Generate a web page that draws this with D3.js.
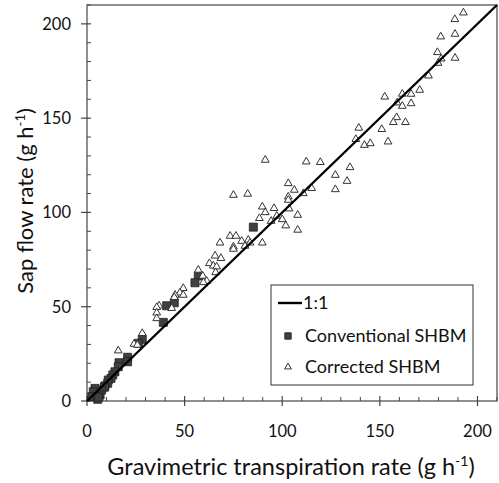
<!DOCTYPE html>
<html>
<head>
<meta charset="utf-8">
<script src="https://cdn.jsdelivr.net/npm/d3@7"></script>
<style>
  body { margin: 0; background: #fff; }
  text { font-family: Lato, "Open Sans", sans-serif; fill: #111; }
</style>
</head>
<body>
<svg id="chart" width="499" height="483"></svg>
<script>
// Conventional SHBM (x = gravimetric, y = sap flow), g h-1
const convX = [85.2, 57.0, 55.3, 44.7, 40.8, 39.1, 28.3, 26.3, 20.8, 20.8, 16.4, 16.0, 14.3, 13.2, 12.3, 10.9, 10.6, 9.2, 8.9, 7.5, 6.7, 4.1, 3.2, 2.4, 5.5, 6.0];
const convY = [92.2, 66.3, 62.7, 52.1, 50.5, 41.7, 32.7, 30.6, 23.2, 20.8, 20.3, 18.2, 15.5, 13.8, 12.0, 11.1, 9.4, 8.0, 7.3, 5.8, 3.2, 6.7, 4.9, 2.3, 0.9, 2.0];

// Corrected SHBM
const corrX = [192.8, 188.4, 181.2, 188.5, 179.5, 181.4, 179.8, 188.5, 174.9, 170.4, 166.0, 161.5, 152.5, 158.8, 166.0, 161.5,
  158.6, 156.9, 163.1, 151.0, 139.2, 137.7, 142.1, 145.1, 154.2, 134.7, 127.2, 133.2, 127.2, 112.3, 119.5, 91.3,
  103.1, 106.2, 115.1, 110.8, 103.1, 103.1, 103.5, 107.9, 107.9, 101.8, 89.8, 95.8, 91.3, 88.3, 94.3, 97.2, 100.0,
  89.8, 75.0, 82.3, 73.3, 76.3, 79.2, 82.6, 75.0, 80.9, 68.1, 83.5, 75.0, 65.6, 68.6, 62.7, 64.7, 66.4, 65.9, 57.0,
  59.3, 61.3, 59.6, 49.3, 47.6, 49.3, 45.1, 44.7, 43.4, 36.9, 35.7, 35.7, 35.7, 28.3, 24.1, 25.8, 16.0];
const corrY = [205.9, 202.4, 193.2, 194.6, 184.9, 181.5, 179.2, 181.9, 172.5, 164.9, 162.8, 162.8, 161.3, 158.2, 157.8, 156.4,
  150.4, 147.8, 147.8, 144.1, 144.8, 138.8, 135.7, 136.6, 137.5, 123.9, 119.8, 116.6, 112.2, 126.9, 126.6, 127.8,
  115.4, 111.9, 112.8, 110.1, 108.3, 106.6, 102.0, 98.6, 90.7, 93.0, 103.0, 102.2, 100.0, 96.9, 95.4, 98.1, 96.3,
  83.9, 109.2, 109.8, 87.5, 87.5, 84.8, 85.4, 81.8, 82.2, 83.9, 83.9, 80.6, 77.0, 75.7, 73.0, 71.7, 71.2, 68.2, 69.5,
  66.3, 63.6, 62.9, 59.8, 57.4, 56.2, 56.2, 55.0, 49.2, 50.5, 49.7, 46.8, 43.8, 35.9, 30.2, 29.7, 26.7];

const majorTicks = [0, 50, 100, 150, 200];
const minorTicks = d3.range(0, 211, 10).filter(v => v % 50 !== 0);
const oneToOne = [0, 210];
const legendLabels = ["1:1", "Conventional SHBM", "Corrected SHBM"];

const svg = d3.select("#chart");
const margin = { top: 5, right: 2, bottom: 82, left: 87 };
const w = 499 - margin.left - margin.right;
const h = 483 - margin.top - margin.bottom;
const g = svg.append("g").attr("transform", "translate(" + margin.left + "," + margin.top + ")");

const x = d3.scaleLinear().domain([0, 210]).range([0, w]);
const y = d3.scaleLinear().domain([0, 210]).range([h, 0]);

// frame
g.append("rect").attr("width", w).attr("height", h)
  .attr("fill", "none").attr("stroke", "#555").attr("stroke-width", 1.3);

// x axis ticks
const xAx = g.append("g").attr("transform", "translate(0," + h + ")");
xAx.selectAll("line.maj").data(majorTicks).join("line")
  .attr("x1", d => x(d)).attr("x2", d => x(d)).attr("y1", -5).attr("y2", 5)
  .attr("stroke", "#444").attr("stroke-width", 1.2);
xAx.selectAll("line.min").data(minorTicks).join("line")
  .attr("x1", d => x(d)).attr("x2", d => x(d)).attr("y1", -4).attr("y2", 0)
  .attr("stroke", "#444").attr("stroke-width", 1);
xAx.selectAll("text").data(majorTicks).join("text")
  .attr("x", d => x(d)).attr("y", 36)
  .attr("text-anchor", "middle").style("font-size", "16.5px").text(d => d);

// y axis ticks
const yAx = g.append("g");
yAx.selectAll("line.maj").data(majorTicks).join("line")
  .attr("x1", -6).attr("x2", 4).attr("y1", d => y(d)).attr("y2", d => y(d))
  .attr("stroke", "#444").attr("stroke-width", 1.2);
yAx.selectAll("line.min").data(minorTicks).join("line")
  .attr("x1", 0).attr("x2", 4).attr("y1", d => y(d)).attr("y2", d => y(d))
  .attr("stroke", "#444").attr("stroke-width", 1);
yAx.selectAll("text").data(majorTicks).join("text")
  .attr("x", -16).attr("y", d => y(d)).attr("dy", "0.36em")
  .attr("text-anchor", "end").style("font-size", "16.5px").text(d => d);

// axis titles
const xt = svg.append("text").attr("x", 291).attr("y", 475)
  .attr("text-anchor", "middle").style("font-size", "23.5px");
xt.append("tspan").text("Gravimetric transpiration rate (g h");
xt.append("tspan").attr("dy", -9).style("font-size", "14px").text("-1");
xt.append("tspan").attr("dy", 9).text(")");

const yt = svg.append("text").attr("transform", "translate(33,201) rotate(-90)")
  .attr("text-anchor", "middle").style("font-size", "22px");
yt.append("tspan").text("Sap flow rate (g h");
yt.append("tspan").attr("dy", -8).style("font-size", "13px").text("-1");
yt.append("tspan").attr("dy", 8).text(")");

const plot = g.append("g");
const sq = d3.symbol().type(d3.symbolSquare).size(64);
const tri = d3.symbol().type(d3.symbolTriangle).size(26);

plot.selectAll("path.conv").data(d3.range(convX.length)).join("path")
  .attr("class", "conv")
  .attr("transform", i => "translate(" + x(convX[i]) + "," + y(convY[i]) + ")")
  .attr("d", sq).attr("fill", "#404040").attr("stroke", "#222").attr("stroke-width", 0.8);

plot.selectAll("path.corr").data(d3.range(corrX.length)).join("path")
  .attr("class", "corr")
  .attr("transform", i => "translate(" + x(corrX[i]) + "," + y(corrY[i]) + ")")
  .attr("d", tri).attr("fill", "#fff").attr("stroke", "#333").attr("stroke-width", 1);

// 1:1 line
plot.append("line")
  .attr("x1", x(oneToOne[0])).attr("y1", y(oneToOne[0]))
  .attr("x2", x(oneToOne[1])).attr("y2", y(oneToOne[1]))
  .attr("stroke", "#000").attr("stroke-width", 2.4);

// legend
const leg = svg.append("g").attr("transform", "translate(271,285)");
leg.append("rect").attr("width", 202).attr("height", 100)
  .attr("fill", "#fff").attr("stroke", "#333").attr("stroke-width", 1);
leg.append("line").attr("x1", 7).attr("x2", 31).attr("y1", 18).attr("y2", 18)
  .attr("stroke", "#000").attr("stroke-width", 2.4);
leg.append("path").attr("transform", "translate(17,51)").attr("d", d3.symbol().type(d3.symbolSquare).size(42))
  .attr("fill", "#404040").attr("stroke", "#222").attr("stroke-width", 0.8);
leg.append("path").attr("transform", "translate(17,82)").attr("d", d3.symbol().type(d3.symbolTriangle).size(20))
  .attr("fill", "#fff").attr("stroke", "#333").attr("stroke-width", 1);
leg.selectAll("text").data(legendLabels).join("text")
  .attr("x", (d, i) => i === 0 ? 32 : 34).attr("y", (d, i) => [18, 51, 82][i])
  .attr("dy", "0.36em").style("font-size", "18px").text(d => d);
</script>
</body>
</html>
